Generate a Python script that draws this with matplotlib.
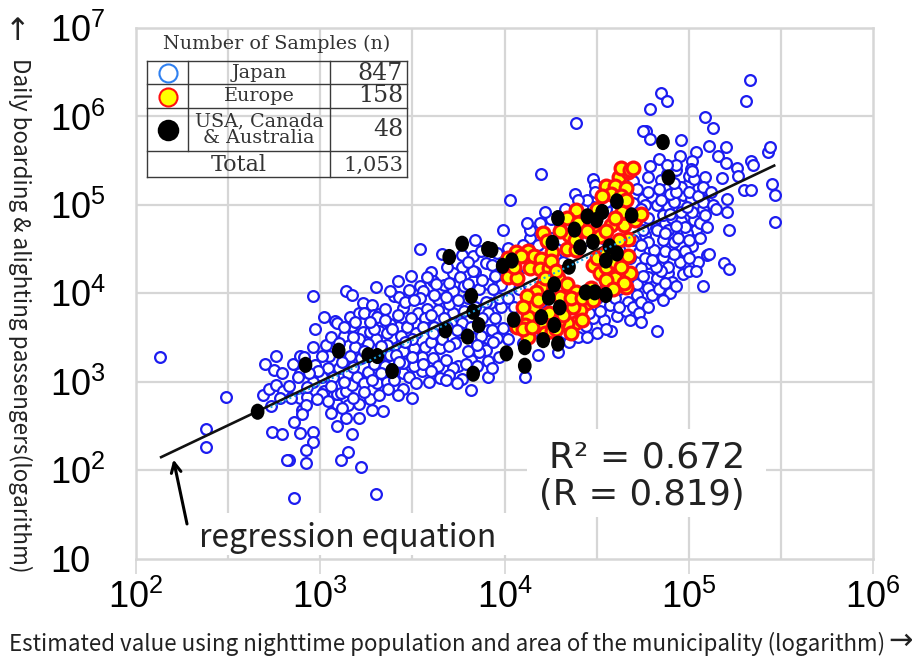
import numpy as np
import matplotlib
matplotlib.use('Agg')
import matplotlib.pyplot as plt
from matplotlib.lines import Line2D
from matplotlib.markers import MarkerStyle
from matplotlib.patches import Rectangle
from matplotlib.transforms import Affine2D

# all points as (log10 x, log10 y)
japan_pts = [
 (2.13,3.28),(2.49,2.83),(2.38,2.46),(2.38,2.26),(2.74,2.43),(2.79,2.41),(2.86,2.54),(2.89,2.42),(2.96,2.43),(2.96,2.32),
 (2.92,2.23),(2.83,2.11),(2.82,2.11),(2.92,2.08),(3.15,2.20),(3.11,2.11),(3.22,2.04),(2.86,1.68),(3.30,1.73),(2.69,2.85),
 (2.72,2.92),(2.76,2.96),(2.80,2.90),(2.78,2.81),(2.73,2.72),(2.89,2.81),(2.93,2.83),(2.84,2.82),(2.90,2.68),(2.92,2.74),
 (2.90,2.63),(3.06,2.65),(3.09,2.50),(3.14,2.59),(3.17,2.41),(3.21,2.59),(3.21,2.75),(3.15,2.74),(3.09,2.75),(3.27,2.80),
 (3.28,2.68),(3.34,2.67),(3.32,2.85),(3.31,2.99),(3.36,3.00),(2.70,3.20),(2.76,3.29),(2.75,3.13),(2.79,3.10),(2.85,3.20),
 (2.89,3.29),(2.89,3.10),(2.88,3.05),(2.96,3.39),(2.97,3.60),(3.02,3.73),(3.08,3.69),(3.09,3.66),(2.96,3.97),(3.14,4.02),
 (3.17,3.98),(3.30,4.07),(3.40,3.97),(3.42,4.14),(3.23,3.89),(3.28,3.87),(3.16,3.73),(3.21,3.78),(3.24,3.78),(3.29,3.75),
 (3.32,3.77),(3.17,3.63),(3.23,3.56),(3.27,3.56),(3.32,3.57),(3.13,3.52),(3.21,3.48),(3.30,3.48),(3.26,3.43),(3.19,3.39),
 (3.16,3.29),(3.05,3.29),(3.01,3.29),(2.97,3.19),(2.91,3.28),(3.10,3.16),(3.04,3.16),(3.01,3.05),(2.96,3.00),(2.93,2.94),
 (3.02,2.90),(3.01,2.86),(3.09,2.86),(3.11,2.87),(3.14,2.90),(3.17,2.96),(3.15,3.10),(3.20,3.05),(3.26,3.11),(3.13,3.00),
 (3.54,4.50),(3.66,4.44),(3.84,4.60),(3.77,4.43),(3.83,4.42),(3.77,4.30),(3.84,4.24),(3.60,4.24),(3.61,4.14),(3.72,4.23),
 (3.76,4.18),(3.67,4.09),(3.83,4.14),(3.72,4.02),(3.54,4.08),(3.48,4.04),(3.56,4.02),(3.54,3.95),(3.64,3.93),(3.43,3.96),
 (3.45,3.83),(3.53,3.78),(3.58,3.82),(3.64,3.81),(3.72,3.78),(3.57,3.71),(3.47,3.63),(3.42,3.62),(3.31,3.73),(3.39,3.49),
 (3.41,3.38),(3.51,3.38),(3.57,3.39),(3.63,3.53),(3.65,3.38),(3.73,3.44),(3.77,3.66),(3.82,3.51),(3.89,3.38),(3.90,4.34),
 (3.71,3.66),(3.76,3.56),(3.91,3.58),(3.99,4.72),(4.03,5.05),(3.83,4.25),(3.93,4.32),(3.91,4.11),(4.02,4.51),(3.98,4.09),
 (3.98,3.84),(3.92,3.89),(3.93,3.58),(3.91,3.78),(3.99,3.61),(3.96,3.49),(3.90,3.36),(3.91,3.23),(3.86,3.33),(3.91,3.05),
 (3.77,3.03),(3.82,2.91),(3.65,3.04),(3.59,3.00),(3.55,3.12),(3.45,2.92),(3.50,2.82),(3.45,3.10),(3.45,3.21),(3.51,3.18),
 (3.61,3.27),(3.64,3.18),(3.75,3.18),(3.72,3.16),(3.45,3.35),(3.47,3.62),(3.57,3.72),(3.42,3.75),(4.11,3.05),(4.10,3.44),
 (4.29,3.34),(4.14,4.63),(4.19,4.79),(4.20,5.35),(4.38,5.12),(4.48,5.29),(4.49,5.22),(4.49,5.14),(4.25,4.84),(4.33,4.95),
 (4.48,4.97),(4.14,4.71),(4.39,5.93),(4.78,5.32),(4.70,5.27),(4.75,5.07),(4.80,5.09),(4.86,5.10),(4.89,4.97),(4.83,5.00),
 (4.78,4.85),(4.82,4.74),(4.87,4.79),(4.76,4.66),(4.73,4.47),(4.81,4.49),(4.86,4.60),(4.86,4.41),(4.78,4.34),(4.74,4.28),
 (4.78,4.18),(4.89,4.23),(4.83,4.17),(4.78,4.06),(4.80,3.98),(4.67,3.90),(4.61,3.74),(4.57,3.87),(4.54,3.70),(4.48,3.72),
 (4.44,3.63),(4.58,3.57),(4.83,3.57),(5.09,5.32),(5.18,5.30),(5.05,5.20),(5.00,5.25),(4.97,5.11),(4.92,5.03),(5.01,5.07),
 (5.08,5.05),(5.08,4.95),(5.21,5.07),(5.21,4.92),(5.22,4.72),(4.86,4.89),(4.91,4.85),(4.96,4.82),(5.03,4.83),(5.02,4.92),
 (5.04,4.72),(4.99,4.68),(4.89,4.71),(4.83,4.71),(4.96,4.54),(5.02,4.53),(4.92,4.58),(4.76,4.40),(4.95,4.35),(4.89,4.30),
 (4.85,4.25),(5.05,4.35),(5.10,4.43),(5.19,4.34),(5.22,4.27),(5.08,4.08),(4.91,4.13),(4.90,4.00),(4.85,6.27),(4.88,6.18),
 (4.79,6.08),(5.09,5.99),(5.13,5.87),(5.33,6.41),(5.31,6.17),(4.77,5.84),(4.75,5.84),(4.79,5.75),(4.96,5.73),(5.11,5.66),
 (5.20,5.65),(5.16,5.55),(5.20,5.47),(5.04,5.60),(4.95,5.55),(5.02,5.50),(4.84,5.52),(4.79,5.44),(5.01,5.40),(4.93,5.39),
 (4.85,5.28),(5.26,5.42),(5.27,5.33),(5.34,5.50),(5.35,5.45),(5.43,5.60),(5.44,5.65),(5.45,5.24),(5.47,5.11),(5.47,4.81),
 (5.30,5.17),(5.34,5.17),(4.78,5.15),(5.08,5.03),(5.11,4.44),(4.96,5.20),(4.90,5.12),(4.70,5.02),(4.65,4.85),(4.55,4.60),
 (4.60,4.95),(4.72,4.85),(4.70,4.60),(4.68,4.40),(4.65,4.20),(4.70,4.15),(4.62,4.05),(4.72,3.98),(4.66,3.80),(4.52,3.80),
 (4.42,3.72),(4.30,3.55),(4.35,3.45),(4.15,3.55),(4.18,3.30),(4.05,3.85),(4.10,4.30),(4.08,4.05),(4.05,4.35),(4.12,4.80),
 (4.22,4.92),(4.30,4.78),(3.95,4.20),(3.97,3.95),(3.88,3.72),(3.84,3.85),(3.80,3.95),(3.86,4.05),(3.78,4.08),(3.70,3.88),
 (3.62,3.62),(3.67,3.72),(3.52,3.55),(3.60,3.45),(3.68,3.25),(3.82,3.25),(3.80,3.35),(3.55,3.28),(3.50,3.48),(3.38,3.30),
 (3.35,3.18),(3.32,3.28),(3.40,3.12),(3.36,3.42),(3.44,3.52),(3.38,3.65),(3.35,3.82),(3.46,3.90),(3.38,4.02),
 # dense lower part of the cloud
 (2.99,3.12),(3.03,3.41),(3.07,3.05),(3.12,3.22),(3.18,3.17),(3.22,3.27),(3.24,2.98),(3.28,3.02),(3.06,2.95),(3.18,2.82),
 (3.12,2.70),(3.24,2.88),(3.29,3.20),(3.33,3.10),(3.37,2.92),(3.06,3.50),(3.10,3.44),(3.18,3.50),(3.24,3.35),(3.33,3.40),
 (3.29,3.60),(3.36,3.55),(2.98,2.80),(3.04,2.78),(2.94,3.10),(2.83,2.95),(3.13,3.62),(3.19,3.68),(3.27,3.68),(3.35,3.70),
 (3.39,3.60),(3.41,3.30),(3.43,3.22),(3.40,3.02),(3.48,3.05),(3.52,2.98),(3.42,2.85),(3.56,3.20),(3.50,3.28),
 # middle of the cloud
 (3.46,3.45),(3.49,3.72),(3.51,3.92),(3.49,4.20),(3.56,3.62),(3.61,3.55),(3.60,3.75),(3.62,3.98),(3.68,3.96),(3.69,3.62),
 (3.66,3.48),(3.70,3.40),(3.74,3.58),(3.78,3.80),(3.75,3.92),(3.82,3.62),(3.87,3.52),(3.85,3.42),(3.90,3.90),(3.88,4.15),
 (3.94,4.05),(3.95,3.72),(3.80,4.10),(3.70,4.12),(3.63,4.10),(3.58,4.18),(3.69,4.30),(3.80,4.35),(3.87,4.48),(3.96,4.45),
 (3.94,3.45),(3.85,3.18),(3.79,3.20),(3.70,3.08),(3.60,3.12),(3.68,3.02),(3.74,2.98),(3.93,3.15),(3.97,3.28),(4.02,3.48),
 (4.05,3.62),(4.02,3.95),(4.06,4.25),
 # behind the European points
 (4.18,4.55),(4.10,4.55),(4.25,4.62),(4.31,4.60),(4.28,4.40),(4.32,4.35),(4.20,3.90),(4.25,3.60),(4.33,3.55),(4.40,3.50),
 (4.45,3.50),(4.50,3.55),(4.55,3.60),(4.46,3.78),(4.50,3.95),(4.55,4.10),(4.60,3.95),(4.62,3.85),(4.70,3.85),(4.73,3.78),
 (4.68,3.70),(4.74,3.68),(4.45,4.60),(4.55,4.95),(4.45,5.05),(4.55,5.03),(4.40,5.05),(4.62,4.50),(4.75,4.72),
 # right hand cluster
 (4.74,3.90),(4.78,3.85),(4.86,3.92),(4.72,4.10),(4.75,4.20),(4.82,4.30),(4.80,4.38),(4.87,4.48),(4.92,4.44),(4.98,4.48),
 (5.00,4.40),(4.97,4.22),(4.93,4.08),(5.00,4.25),(5.04,4.25),(4.84,4.05),(4.87,4.12),(4.94,4.62),(5.00,4.60),(5.06,4.62),
 (5.06,4.80),(5.10,4.75),(5.09,4.88),(4.98,4.75),(4.93,4.76),(4.87,4.68),(4.78,4.58),(4.74,4.55),(4.90,4.90),(4.96,4.92),
 (4.99,4.98),(4.85,5.05),(4.93,5.15),(5.00,5.15),(5.05,5.10),(5.13,5.00),(4.92,5.25),(5.00,5.33),(5.03,5.29),(4.88,5.35),
 (4.84,5.18),(4.76,5.00),(4.72,5.18),(4.74,4.95),(5.02,5.38),(5.08,5.20),(5.15,4.95),(5.12,5.15),(4.93,5.45),(4.88,5.45),
]

europe_pts = [
 (4.62,5.32),(4.67,5.37),(4.55,5.21),(4.60,5.21),(4.66,5.19),(4.58,5.12),(4.63,5.10),(4.39,4.94),(4.34,4.85),(4.21,4.68),
 (4.23,4.59),(4.26,4.47),(4.06,4.47),(4.13,4.48),(4.16,4.42),(4.20,4.39),(4.14,4.28),(4.19,4.27),(4.24,4.28),(4.02,4.18),
 (4.07,4.17),(4.20,4.07),(4.17,4.01),(4.12,3.97),(4.34,4.50),(4.39,4.49),(4.35,4.66),(4.42,4.75),(4.40,4.80),(4.58,4.77),
 (4.65,4.77),(4.64,4.92),(4.71,4.83),(4.74,4.90),(4.67,4.61),(4.67,4.42),(4.48,4.32),(4.52,4.23),(4.57,4.22),(4.60,4.17),
 (4.68,4.23),(4.66,4.07),(4.50,4.68),(4.29,4.17),(4.34,4.11),(4.39,4.01),(4.30,3.96),(4.44,3.89),(4.41,3.81),(4.37,3.84),
 (4.38,3.66),(4.34,3.66),(4.16,3.84),(4.13,3.73),(4.11,3.64),(4.07,3.62),(4.13,3.50),(4.24,3.78),(4.20,3.66),(4.29,3.67),
 (4.47,4.06),(4.63,5.42),(4.68,5.39),(4.70,5.42),(4.60,4.45),(4.55,4.30),
 (4.05,4.30),(4.09,4.42),(4.02,4.40),(4.25,4.37),(4.28,4.25),(4.22,4.17),(4.10,3.85),(4.18,3.92),(4.22,3.55),(4.26,3.57),
 (4.32,3.75),(4.36,3.95),(4.42,3.95),(4.50,4.40),(4.55,4.45),(4.60,4.35),(4.63,4.30),(4.65,4.12),(4.55,4.15),(4.52,4.65),
 (4.45,4.70),(4.55,4.70),(4.50,4.95),(4.60,4.85),(4.66,5.05),(4.53,5.10),(4.30,4.70),(4.38,4.60),(4.62,4.60),(4.50,4.00),
 (4.28,3.60),(4.10,3.60),(4.15,3.62),(4.42,3.70),(4.36,3.55),(4.48,3.92),(4.59,4.05),
]

usa_pts = [
 (2.66,2.66),(2.92,3.19),(3.10,3.35),(3.26,3.30),(3.31,3.29),(3.39,3.12),(3.70,4.41),(3.77,4.56),(3.91,4.50),(3.93,4.49),
 (3.99,4.31),(4.04,4.37),(3.82,3.97),(3.83,3.79),(3.86,3.64),(3.68,3.58),(3.80,3.51),(4.01,3.32),(4.11,3.39),(4.11,3.18),
 (3.83,3.09),(4.05,3.70),(4.20,3.73),(4.27,3.64),(4.21,3.47),(4.29,3.43),(4.24,3.95),(4.27,4.10),(4.26,4.57),(4.29,4.85),
 (4.38,4.72),(4.41,4.52),(4.45,4.87),(4.50,4.83),(4.53,4.92),(4.48,4.58),(4.57,4.53),(4.61,4.45),(4.55,4.37),(4.61,5.04),
 (4.69,4.88),(4.35,4.30),(4.30,3.84),(4.44,4.01),(4.49,4.01),(4.55,3.98),(4.86,5.71),(4.89,5.31),
]

# regression line ends and its dotted copy, log10
line_lx = [2.13, 5.47]
line_ly = [2.14, 5.45]
dotted_lx = [2.73, 4.76]
dotted_ly = [2.71, 4.71]

table_rows = ['Japan', 'Europe', 'USA, Canada\n& Australia']
table_counts = ['847', '158', '48']
table_total = '1,053'

W, H = 916, 656
def fx(px): return px / W
def fy(py): return 1 - py / H

plt.rcParams['font.family'] = ['Liberation Sans', 'DejaVu Sans']
plt.rcParams['mathtext.fontset'] = 'custom'
plt.rcParams['mathtext.default'] = 'regular'
plt.rcParams['mathtext.rm'] = 'Liberation Sans'

fig = plt.figure(figsize=(9.16, 6.56), dpi=100)
ax = fig.add_axes([fx(136), fy(558.5), fx(873) - fx(136), fy(28) - fy(558.5)])
ax.set_xscale('log')
ax.set_yscale('log')
ax.set_xlim(1e2, 1e6)
ax.set_ylim(1e1, 1e7)

grid_c = '#d6d6d6'
ax.minorticks_off()
ax.set_xticks([1e2, 1e3, 1e4, 1e5, 1e6])
ax.set_xticklabels(['$10^{%d}$' % e for e in [2, 3, 4, 5, 6]], fontsize=26)
ax.set_yticks([1e1, 1e2, 1e3, 1e4, 1e5, 1e6, 1e7])
ax.set_yticklabels(['10'] + ['$10^{%d}$' % e for e in [2, 3, 4, 5, 6, 7]], fontsize=26, ha='left')
ax.tick_params(axis='x', length=10.5, width=1.2, color=grid_c, pad=5)
ax.tick_params(axis='y', length=0, pad=62)
for s in ax.spines.values():
    s.set_color(grid_c)
    s.set_linewidth(1.8)

# gridlines: y at decades, x also half way between them
for e in [2, 3, 4, 5, 6]:
    ax.axhline(10.0 ** e, color=grid_c, lw=1.6, zorder=1)
for e in [2.5, 3, 3.5, 4, 4.5, 5, 5.5]:
    ax.axvline(10.0 ** e, color=grid_c, lw=1.6, zorder=1)

# white boxes that sit behind the two captions in the original
for x0, y0, x1, y1 in [(527, 429, 766, 517), (190, 513, 511, 555)]:
    ax.add_patch(Rectangle((fx(x0), fy(y1)), fx(x1) - fx(x0), fy(y0) - fy(y1), transform=fig.transFigure,
                           fc='white', ec='none', zorder=1.5))

jp = np.array(japan_pts)
eu = np.array(europe_pts)
us = np.array(usa_pts)

ax.scatter(10 ** jp[:, 0], 10 ** jp[:, 1], s=60, fc='white', ec='#1c1cf0', lw=1.6, zorder=3)
ax.plot(10 ** np.array(line_lx), 10 ** np.array(line_ly), color='#111111', lw=1.9, zorder=4, solid_capstyle='butt')
ax.scatter(10 ** eu[:, 0], 10 ** eu[:, 1], s=85, fc='#ffff00', ec='#ff1010', lw=2.3, zorder=5)
tall = MarkerStyle('o', transform=Affine2D().scale(0.85, 1.0))
ax.scatter(10 ** us[:, 0], 10 ** us[:, 1], s=135, marker=tall, fc='black', ec='none', zorder=6)
ax.plot(10 ** np.array(dotted_lx), 10 ** np.array(dotted_ly), color='#1f9fe0', lw=1.5, ls=(0, (1, 1.5)), zorder=7)

ax.annotate('', xy=(10 ** 2.2, 10 ** 2.15), xytext=(10 ** 2.28, 10 ** 1.36),
            arrowprops=dict(arrowstyle='->,head_width=0.35,head_length=0.7', color='black', lw=2.2), zorder=8)

cjk = ['Noto Sans CJK KR', 'DejaVu Sans']
fig.text(fx(199), fy(538), 'regression equation', fontsize=23, family=cjk, va='center', ha='left', color='#222222')
fig.text(fx(647), fy(457), 'R² = 0.672', fontsize=26, family='DejaVu Sans', va='center', ha='center', color='#222222')
fig.text(fx(642), fy(495), '(R = 0.819)', fontsize=25.5, family='DejaVu Sans', va='center', ha='center', color='#222222')

fig.text(fx(9), fy(644), 'Estimated value using nighttime population and area of the municipality (logarithm)',
         fontsize=16.1, family=cjk, va='center', ha='left', color='#222222')
fig.text(fx(900), fy(641), '→', fontsize=21, family='DejaVu Sans', va='center', ha='center', color='#222222')
fig.text(fx(20), fy(315), 'Daily boarding & alighting passengers(logarithm)', rotation=-90,
         fontsize=16.2, family=cjk, va='center', ha='center', color='#222222')
fig.text(fx(18), fy(31), '↑', fontsize=22, family='DejaVu Sans', va='center', ha='center', color='#222222')

# sample count table, built on the figure so it stays on top of the points
table_c = '#3a3a3a'
def tline(x0, y0, x1, y1):
    fig.add_artist(Line2D([fx(x0), fx(x1)], [fy(y0), fy(y1)], color=table_c, lw=1.0, zorder=10))
for y in [61, 84, 108, 151, 177]:
    tline(147, y, 407, y)
for x in [147, 330, 407]:
    tline(x, 61, x, 177)
tline(188, 61, 188, 151)

serif = ['DejaVu Serif']
fig.text(fx(277), fy(44), 'Number of Samples (n)', fontsize=13.8, family=serif, ha='center', va='center', color='#333333', zorder=11)
for label, count, yc in zip(table_rows, table_counts, [73, 96, 130]):
    fig.text(fx(259), fy(yc), label, fontsize=13.8, family=serif, ha='center', va='center', color='#333333', linespacing=0.9, zorder=11)
    fig.text(fx(403), fy(yc), count, fontsize=17, family=serif, ha='right', va='center', color='#333333', zorder=11)
fig.text(fx(239), fy(165), 'Total', fontsize=16, family=serif, ha='center', va='center', color='#333333', zorder=11)
fig.text(fx(403), fy(165), table_total, fontsize=15, family=serif, ha='right', va='center', color='#333333', zorder=11)

for yc, fc, ec, ms in [(73, 'white', '#2f80f0', 13), (97, '#ffff00', '#ff1010', 13), (130, 'black', 'black', 14)]:
    fig.add_artist(Line2D([fx(168)], [fy(yc)], marker='o', ms=ms, mfc=fc, mec=ec, mew=1.5, ls='none', zorder=11))

fig.savefig('out.png', dpi=100)
